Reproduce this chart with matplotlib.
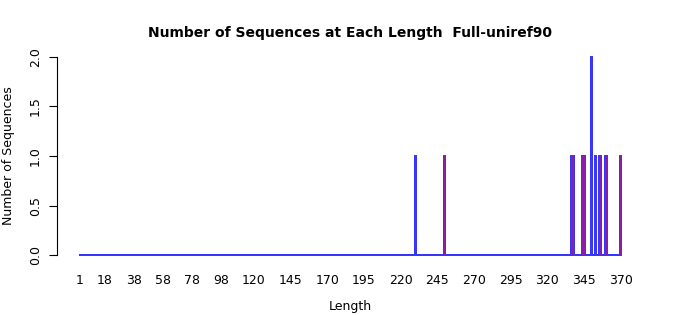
import matplotlib
matplotlib.use("Agg")
import matplotlib.pyplot as plt
import numpy as np

# sequence lengths that occur, and how many sequences have each length
lengths = [230, 250, 337, 338, 344, 345, 350, 353, 356, 360, 370]
counts = [1, 1, 1, 1, 1, 1, 2, 1, 1, 1, 1]
max_len = 370
tick_labels = [1, 18, 38, 58, 78, 98, 120, 145, 170, 195, 220, 245, 270, 295, 320, 345, 370]

all_len = np.arange(1, max_len + 1)
all_counts = np.zeros(max_len)
for l, c in zip(lengths, counts):
    all_counts[l - 1] = c

fig = plt.figure(figsize=(7, 3.15), dpi=100)
ax = fig.add_axes([57 / 700, 52 / 315, 586 / 700, 214 / 315])

# R-style barplot: bar i spans [i-1, i]; zero bars make the blue baseline
# blue borders first, purple fill on top so the fill stays visible
ax.bar(all_len - 0.5, all_counts, width=1.0, color="none",
       edgecolor="#3535ff", linewidth=1.1, antialiased=False)
ax.bar(all_len - 0.5, all_counts, width=1.0, color="#8a1fa8", linewidth=0)

ax.set_xlim(-0.04 * max_len, max_len * 1.04)
ax.set_ylim(-0.08, 2.08)

for s in ["top", "right", "bottom"]:
    ax.spines[s].set_visible(False)
ax.spines["left"].set_bounds(0, 2)
ax.spines["left"].set_linewidth(0.8)

ax.set_yticks([0, 0.5, 1.0, 1.5, 2.0])
ax.set_yticklabels(["0.0", "0.5", "1.0", "1.5", "2.0"], rotation=90, va="center", fontsize=9)
ax.tick_params(axis="y", length=6, width=0.8, pad=5)

ax.set_xticks([t - 0.5 for t in tick_labels])
ax.set_xticklabels([str(t) for t in tick_labels], fontsize=9)
ax.tick_params(axis="x", length=0, pad=8)

ax.set_xlabel("Length", fontsize=9, labelpad=9)
ax.set_ylabel("Number of Sequences", fontsize=9, labelpad=10)
ax.set_title("Number of Sequences at Each Length  Full-uniref90",
             fontsize=10, fontweight="bold", pad=9)

fig.savefig("out.png", dpi=100)
